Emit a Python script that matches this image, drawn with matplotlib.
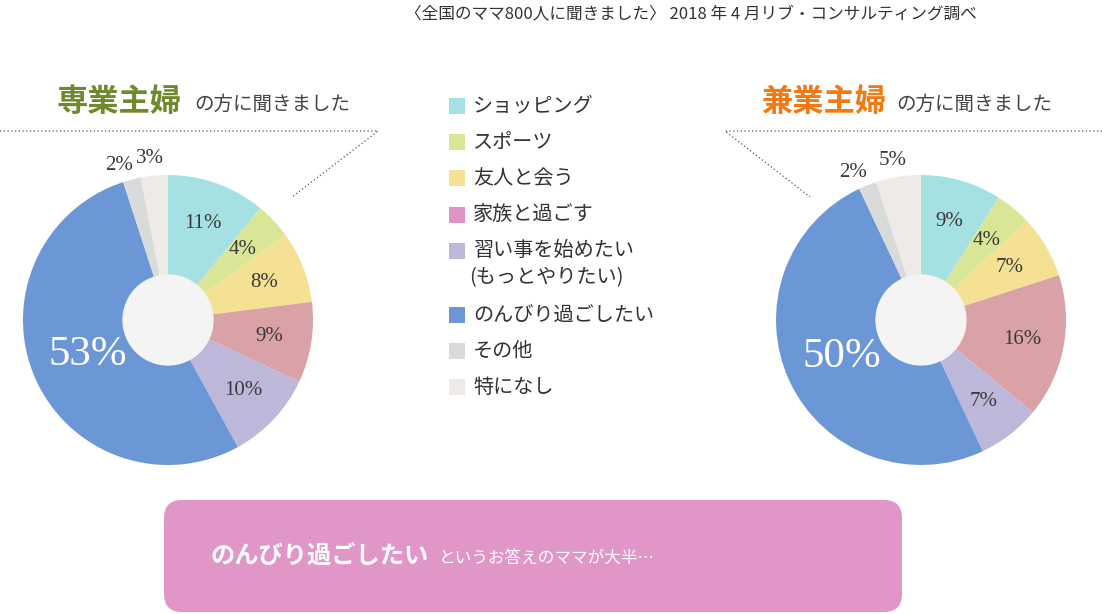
import matplotlib
matplotlib.use("Agg")
import matplotlib.pyplot as plt
from matplotlib.patches import Circle, Rectangle, FancyBboxPatch
import numpy as np

plt.rcParams['font.family'] = ['Noto Sans CJK JP', 'DejaVu Sans']

# data
categories = ['ショッピング', 'スポーツ', '友人と会う', '家族と過ごす',
              '習い事を始めたい\n(もっとやりたい)', 'のんびり過ごしたい', 'その他', '特になし']
fulltime = [11, 4, 8, 9, 10, 53, 2, 3]     # 専業主婦
parttime = [9, 4, 7, 16, 7, 50, 2, 5]      # 兼業主婦

pie_colors = ['#a5e1e2', '#d9e697', '#f4e194', '#d9a2a6',
              '#bdb7d9', '#6b97d6', '#d9dada', '#edeae7']
legend_colors = ['#a5e1e2', '#d9e697', '#f4e194', '#e092c6',
                 '#bdb7d9', '#6b97d6', '#d9dada', '#edeae7']

W, H = 1102, 614
fig = plt.figure(figsize=(W / 100, H / 100), dpi=100)

# overlay axes in pixel coords
ax0 = fig.add_axes([0, 0, 1, 1])
ax0.set_xlim(0, W)
ax0.set_ylim(H, 0)
ax0.axis('off')


def draw_pie(values, cx, cy, r):
    ax = fig.add_axes([(cx - r) / W, (H - cy - r) / H, 2 * r / W, 2 * r / H])
    wedges, _ = ax.pie(values, colors=pie_colors, startangle=90, counterclock=False,
                       radius=1, wedgeprops=dict(linewidth=0))
    ax.add_patch(Circle((0, 0), 0.31, color='#f4f4f4', zorder=5))
    ax.set_xlim(-1, 1)
    ax.set_ylim(-1, 1)
    ax.axis('off')
    big = int(np.argmax(values))
    n = len(values)
    for i, (w, v) in enumerate(zip(wedges, values)):
        mid = (w.theta1 + w.theta2) / 2
        if i == big:
            d, col, fs = 0.6, 'white', 31
        elif i >= n - 2:
            d, col, fs = 1.12, '#3a3a3a', 15
            # spread the two small outside labels a little
            mid += 3 if i == n - 2 else 1
        else:
            d, col, fs = 0.71, '#3a3a3a', 15
        ang = np.deg2rad(mid)
        ax.text(d * np.cos(ang), d * np.sin(ang), f'{v}%', ha='center', va='center',
                color=col, fontsize=fs, family='Liberation Serif', zorder=6,
                clip_on=False)
    return ax


draw_pie(fulltime, 168, 320, 145)
draw_pie(parttime, 921, 320, 145)

# source note
ax0.text(405, 14, '〈全国のママ800人に聞きました〉 2018 年 4 月リブ・コンサルティング調べ',
         fontsize=12, color='#333333', va='center', ha='left')

# headings
ax0.text(57, 102, '専業主婦', fontsize=22.5, color='#6e8a2c', fontweight='bold',
         va='center', ha='left')
ax0.text(194, 104, 'の方に聞きました', fontsize=14, color='#444444',
         va='center', ha='left')
ax0.text(761, 102, '兼業主婦', fontsize=22.5, color='#f27a12', fontweight='bold',
         va='center', ha='left')
ax0.text(896, 104, 'の方に聞きました', fontsize=14, color='#444444',
         va='center', ha='left')

# dotted callout lines
ax0.plot([0, 378, 292], [131, 131, 197], ls=(0, (1, 2)), color='#555555', lw=0.9)
ax0.plot([W, 725, 810], [131, 131, 197], ls=(0, (1, 2)), color='#555555', lw=0.9)

# legend
y = 106
for lab, col in zip(categories, legend_colors):
    ax0.add_patch(Rectangle((449, y - 8), 16, 16, color=col, lw=0))
    lines = lab.split('\n')
    for k, ln in enumerate(lines):
        ax0.text(473 if k == 0 else 469, y + 27 * k, ln, fontsize=14.5, color='#333333',
                 va='center', ha='left')
    y += 36.2 + 28 * (len(lines) - 1)

# bottom banner
ax0.add_patch(FancyBboxPatch((164 + 18, 500 + 18), 738 - 36, 112 - 36,
                             boxstyle='round,pad=18', color='#e097c8', lw=0))
ax0.text(210, 556, 'のんびり過ごしたい', fontsize=17.5, color='white', fontweight='bold',
         va='center', ha='left')
ax0.text(439, 558, 'というお答えのママが大半…', fontsize=12, color='white',
         va='center', ha='left')

fig.savefig('out.png', dpi=100)
